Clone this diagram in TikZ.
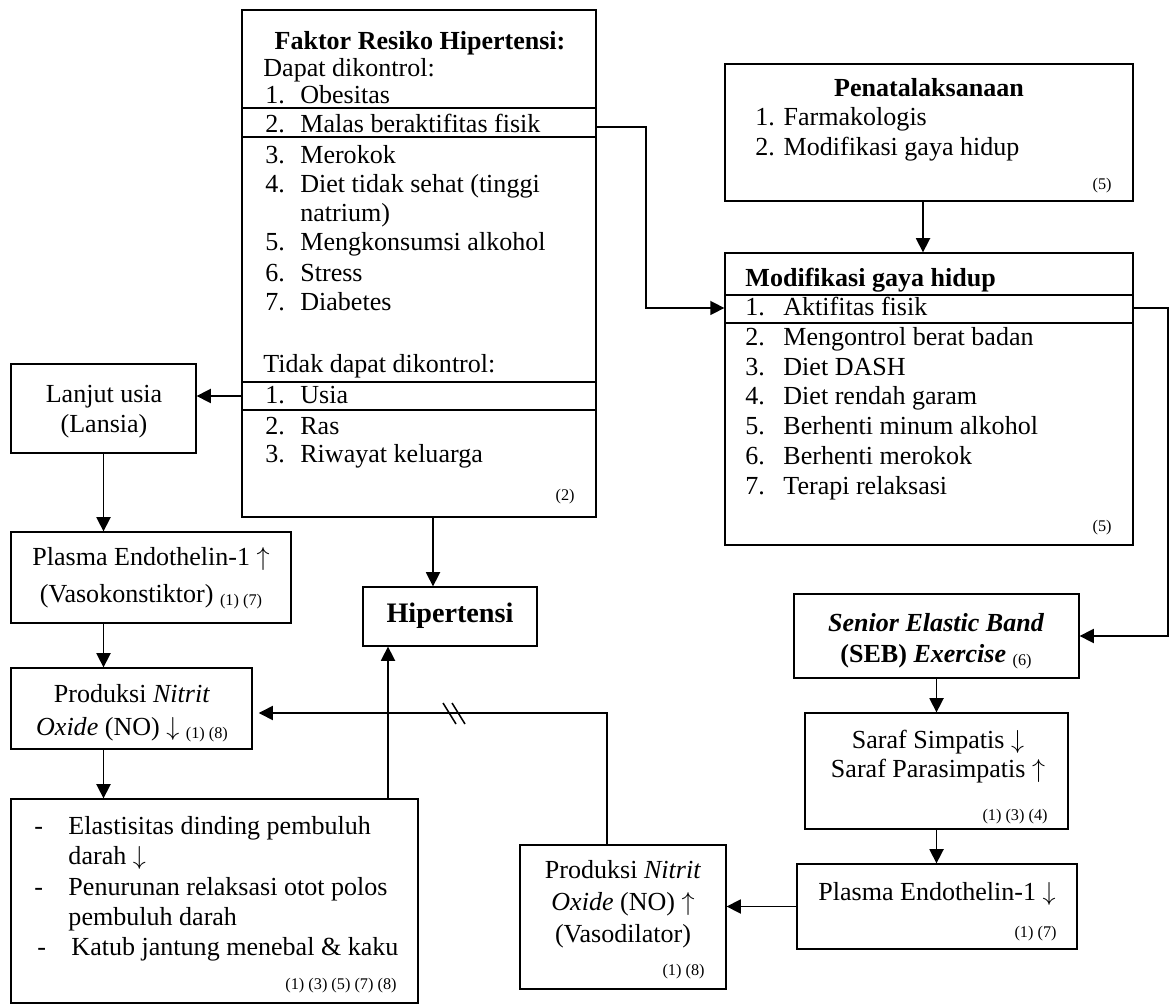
\documentclass[tikz,border=0pt]{standalone}
\usepackage{fontspec}
\setmainfont{Liberation Serif}
\usetikzlibrary{arrows.meta,fit}
\newcommand{\refs}{\fontsize{7.5}{9}\selectfont}
\newcommand{\nm}[1]{\makebox[16.1pt][l]{#1}}
\newcommand{\nmm}[1]{\makebox[17.5pt][l]{#1}}
\newcommand{\dsh}{\makebox[15.7pt][l]{-}}
\newcommand{\up}{$\uparrow$}
\newcommand{\dn}{$\downarrow$}
\begin{document}
\begin{tikzpicture}[x=0.4608pt,y=-0.4608pt,
  box/.style={draw, line width=0.6pt, inner sep=0pt},
  tl/.style={anchor=base west, inner sep=0pt},
  tc/.style={anchor=base, inner sep=0pt},
  tr/.style={anchor=base east, inner sep=0pt, font=\refs},
  arr/.style={line width=0.7pt, -{Triangle[length=6.5pt,width=6.5pt]}},
  ln/.style={line width=0.7pt},
  rule/.style={line width=0.6pt},
  font=\fontsize{12}{14}\selectfont]
\useasboundingbox (0,0) rectangle (1171,1005);

% ---------- Faktor Resiko ----------
\node[box, fit={(242,10) (596,517)}] (faktor) {};
\node[tc, font=\fontsize{12}{14}\selectfont\bfseries] (fk0) at (420,50) {Faktor Resiko Hipertensi:};
\node[tl] (fk1) at (263,77) {Dapat dikontrol:};
\node[tl] (fk2) at (265,104) {\nm{1.}Obesitas};
\node[tl] (fk3) at (265,133) {\nm{2.}Malas beraktifitas fisik};
\node[tl] (fk4) at (265,164) {\nm{3.}Merokok};
\node[tl] (fk5) at (265,193) {\nm{4.}Diet tidak sehat (tinggi};
\node[tl] (fk6) at (265,222) {\nm{}natrium)};
\node[tl] (fk7) at (265,251) {\nm{5.}Mengkonsumsi alkohol};
\node[tl] (fk8) at (265,282) {\nm{6.}Stress};
\node[tl] (fk9) at (265,311) {\nm{7.}Diabetes};
\node[tl] (fk10) at (263,373) {Tidak dapat dikontrol:};
\node[tl] (fk11) at (265,404) {\nm{1.}Usia};
\node[tl] (fk12) at (265,435) {\nm{2.}Ras};
\node[tl] (fk13) at (265,463) {\nm{3.}Riwayat keluarga};
\node[tr] (fkr) at (575,501) {(2)};
\coordinate (yR1) at (0,108);
\coordinate (yR2) at (0,137);
\coordinate (yR3) at (0,382);
\coordinate (yR4) at (0,410);
\draw[rule] (faktor.west |- yR1) -- (faktor.east |- yR1);
\draw[rule] (faktor.west |- yR2) -- (faktor.east |- yR2);
\draw[rule] (faktor.west |- yR3) -- (faktor.east |- yR3);
\draw[rule] (faktor.west |- yR4) -- (faktor.east |- yR4);

% ---------- Penatalaksanaan ----------
\node[box, fit={(725,64) (1133,201)}] (penat) {};
\node[tc, font=\fontsize{12}{14}\selectfont\bfseries] (pt0) at (929,97) {Penatalaksanaan};
\node[tl] (pt1) at (755,126) {1. Farmakologis};
\node[tl] (pt2) at (755,156) {2. Modifikasi gaya hidup};
\node[tr] (ptr) at (1112,190) {(5)};

% ---------- Modifikasi gaya hidup ----------
\node[box, fit={(725,253) (1133,545)}] (modif) {};
\node[tl, font=\fontsize{12}{14}\selectfont\bfseries] (md0) at (745,287) {Modifikasi gaya hidup};
\node[tl] (md1) at (745,316) {\nmm{1.}Aktifitas fisik};
\node[tl] (md2) at (745,346) {\nmm{2.}Mengontrol berat badan};
\node[tl] (md3) at (745,376) {\nmm{3.}Diet DASH};
\node[tl] (md4) at (745,405) {\nmm{4.}Diet rendah garam};
\node[tl] (md5) at (745,435) {\nmm{5.}Berhenti minum alkohol};
\node[tl] (md6) at (745,465) {\nmm{6.}Berhenti merokok};
\node[tl] (md7) at (745,495) {\nmm{7.}Terapi relaksasi};
\node[tr] (mdr) at (1112,532) {(5)};
\coordinate (yM1) at (0,295);
\coordinate (yM2) at (0,323);
\draw[rule] (modif.west |- yM1) -- (modif.east |- yM1);
\draw[rule] (modif.west |- yM2) -- (modif.east |- yM2);

% ---------- Lanjut usia ----------
\node[box, fit={(11,364) (196,453)}] (lanjut) {};
\node[tc] (lj1) at (104,403) {Lanjut usia};
\node[tc] (lj2) at (104,433) {(Lansia)};

% ---------- Plasma Endothelin-1 up ----------
\node[box, fit={(11,532) (291,623)}] (pe1) {};
\node[tc] (pa1) at (151,565) {Plasma Endothelin-1 \up};
\node[tc] (pa2) at (151,602) {(Vasokonstiktor) {\refs\raisebox{-1.5pt}{(1) (7)}}};

% ---------- NO down ----------
\node[box, fit={(11,668) (252,749)}] (no1) {};
\node[tc] (na1) at (132,702) {Produksi \textit{Nitrit}};
\node[tc] (na2) at (132,735) {\textit{Oxide} (NO) \dn{} {\refs\raisebox{-1.5pt}{(1) (8)}}};

% ---------- Big box ----------
\node[box, fit={(11,799) (418,1003)}] (big) {};
\node[tl] (bg1) at (34,834) {\dsh Elastisitas dinding pembuluh};
\node[tl] (bg2) at (34,864) {\dsh darah \dn};
\node[tl] (bg3) at (34,895) {\dsh Penurunan relaksasi otot polos};
\node[tl] (bg4) at (34,925) {\dsh pembuluh darah};
\node[tl] (bg5) at (37,955) {\dsh Katub jantung menebal \& kaku};
\node[tr] (bgr) at (397,989) {(1) (3) (5) (7) (8)};
\fill[white] (30,855) rectangle (60,870);
\fill[white] (30,916) rectangle (60,931);

% ---------- Hipertensi ----------
\node[box, fit={(363,587) (537,646)}] (hip) {};
\node[tc, font=\fontsize{13}{15}\selectfont\bfseries] (hp) at (450,622) {Hipertensi};

% ---------- SEB ----------
\node[box, fit={(794,594) (1079,678)}] (seb) {};
\node[tc, font=\fontsize{12}{14}\selectfont\bfseries\itshape] (sb1) at (936,632) {Senior Elastic Band};
\node[tc] (sb2) at (936,662) {\textbf{(SEB) \textit{Exercise}} {\refs\raisebox{-1.5pt}{(6)}}};

% ---------- Saraf ----------
\node[box, fit={(805,713) (1068,829)}] (saraf) {};
\node[tc] (sr1) at (938,748) {Saraf Simpatis \dn};
\node[tc] (sr2) at (938,777) {Saraf Parasimpatis \up};
\node[tr] (srr) at (1048,820) {(1) (3) (4)};

% ---------- Plasma Endothelin-1 down ----------
\node[box, fit={(797,864) (1077,949)}] (pe2) {};
\node[tc] (pb1) at (937,900) {Plasma Endothelin-1 \dn};
\node[tr] (pbr) at (1057,937) {(1) (7)};

% ---------- NO up ----------
\node[box, fit={(520,845) (726,989)}] (no2) {};
\node[tc] (nb1) at (623,878) {Produksi \textit{Nitrit}};
\node[tc] (nb2) at (623,910) {\textit{Oxide} (NO) \up};
\node[tc] (nb3) at (623,942) {(Vasodilator)};
\node[tr] (nbr) at (705,975) {(1) (8)};

% ---------- connectors ----------
\coordinate (cMalas) at (646,127);
\coordinate (cAkt) at (646,308);
\coordinate (cRight) at (1168,308);
\coordinate (cUsia) at (0,396);
\coordinate (xFH) at (433,0);
\coordinate (xBH) at (388,0);
\coordinate (xPM) at (923,0);
\coordinate (cNO) at (607,713);

\draw[arr] (faktor.east |- cMalas) -- (cMalas) -- (cAkt) -- (modif.west |- cAkt);
\draw[arr] (modif.east |- cRight) -- (cRight) -- (cRight |- seb.east) -- (seb.east);
\draw[arr] (faktor.west |- cUsia) -- (lanjut.east |- cUsia);
\draw[arr] (faktor.south -| xFH) -- (hip.north -| xFH);
\draw[arr] (penat.south -| xPM) -- (modif.north -| xPM);
\draw[arr] (lanjut.south) -- (lanjut.south |- pe1.north);
\draw[arr] (pe1.south -| lanjut.south) -- (no1.north -| lanjut.south);
\draw[arr] (no1.south -| lanjut.south) -- (big.north -| lanjut.south);
\draw[arr] (big.north -| xBH) -- (hip.south -| xBH);
\draw[arr, shorten >=2.8pt] (no2.north -| cNO) -- (cNO) -- (no1.east |- cNO);
\draw[ln] (443,703) -- (456,724);
\draw[ln] (452,703) -- (465,724);
\draw[arr] (pe2.west) -- (no2.east |- pe2.west);
\draw[arr] (seb.south) -- (seb.south |- saraf.north);
\draw[arr] (saraf.south) -- (saraf.south |- pe2.north);
\end{tikzpicture}
\end{document}
